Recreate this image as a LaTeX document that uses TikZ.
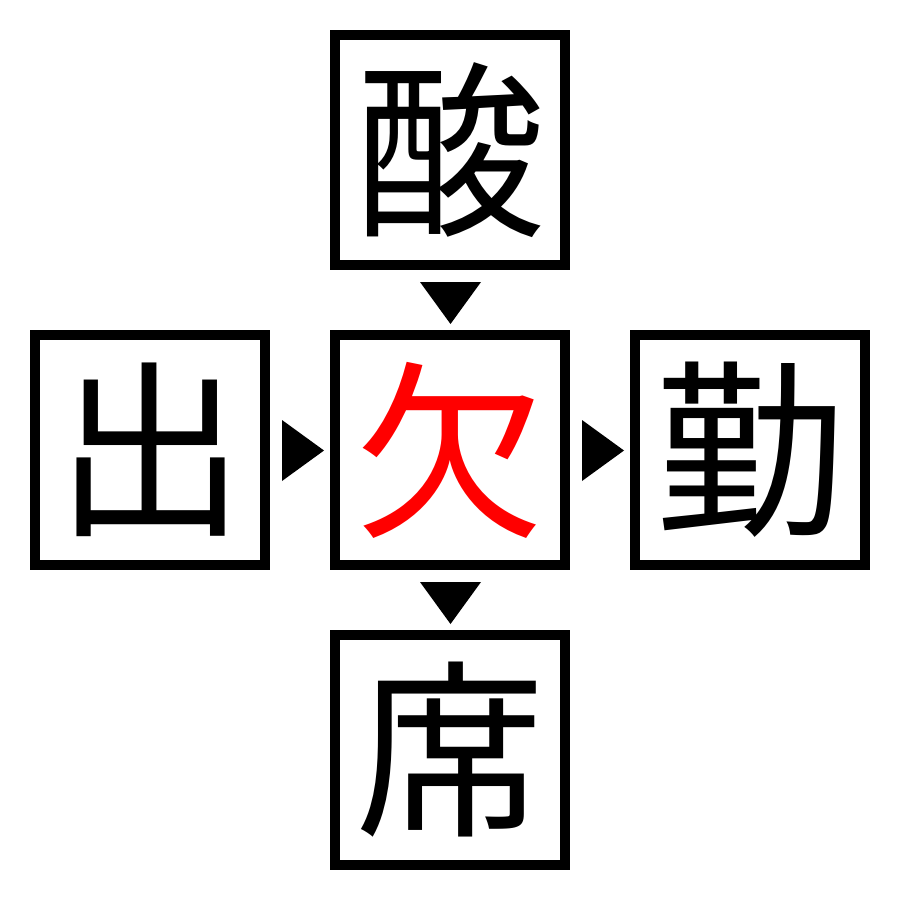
\documentclass[tikz,border=0pt]{standalone}
\usepackage{fontspec}
\newfontfamily\cjk{Noto Sans CJK JP}
\begin{document}
\begin{tikzpicture}[x=0.01cm,y=-0.01cm,
  kbox/.style={draw=black,line width=0.1cm,minimum size=2.3cm,inner sep=0pt,font=\cjk\fontsize{54}{54}\selectfont},
  tri/.style={fill=black}]
\useasboundingbox (0,0) rectangle (900,900);
\node[kbox] (top) at (450,150) {酸};
\node[kbox,text=red] (mid) at (450,450) {欠};
\node[kbox] (left) at (150,450) {出};
\node[kbox] (right) at (750,450) {勤};
\node[kbox] (bot) at (450,750) {席};
\fill[tri] (420,282) -- (481,282) -- (450.5,324) -- cycle;
\fill[tri] (420,582) -- (481,582) -- (450.5,624) -- cycle;
\fill[tri] (282,420) -- (282,481) -- (324,450.5) -- cycle;
\fill[tri] (582,420) -- (582,481) -- (624,450.5) -- cycle;
\end{tikzpicture}
\end{document}
